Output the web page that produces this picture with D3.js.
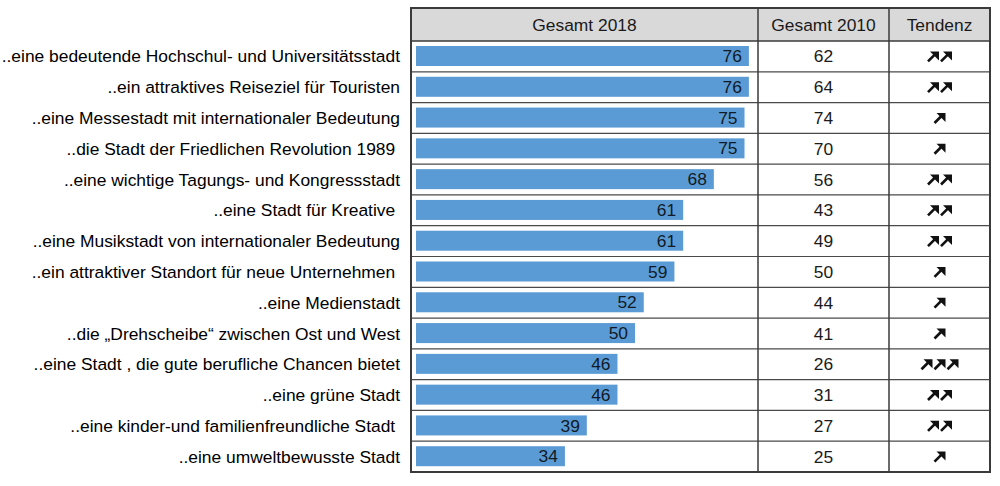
<!DOCTYPE html>
<html>
<head>
<meta charset="utf-8">
<script src="https://cdn.jsdelivr.net/npm/d3@7"></script>
<style>
    html, body { margin: 0; padding: 0; background: #fff; }
    svg { display: block; font-family: "Liberation Sans", Arial, sans-serif; }
</style>
</head>
<body>
<div id="chart"></div>
<script>
// Image statements (Leipzig is ...), values in percent
const categories = [
    '..eine bedeutende Hochschul- und Universitätsstadt',
    '..ein attraktives Reiseziel für Touristen',
    '..eine Messestadt mit internationaler Bedeutung',
    '..die Stadt der Friedlichen Revolution 1989 ',
    '..eine wichtige Tagungs- und Kongressstadt',
    '..eine Stadt für Kreative ',
    '..eine Musikstadt von internationaler Bedeutung',
    '..ein attraktiver Standort für neue Unternehmen ',
    '..eine Medienstadt',
    '..die „Drehscheibe“ zwischen Ost und West',
    '..eine Stadt , die gute berufliche Chancen bietet',
    '..eine grüne Stadt',
    '..eine kinder-und familienfreundliche Stadt ',
    '..eine umweltbewusste Stadt'
];
const values2018 = [76, 76, 75, 75, 68, 61, 61, 59, 52, 50, 46, 46, 39, 34];
const values2010 = [62, 64, 74, 70, 56, 43, 49, 50, 44, 41, 26, 31, 27, 25];
// number of up-arrows in the "Tendenz" column
const trendArrows = [2, 2, 1, 1, 2, 2, 2, 1, 1, 1, 3, 2, 2, 1];
const headers = ['Gesamt 2018', 'Gesamt 2010', 'Tendenz'];

const width = 1000;
const height = 486;
const fontSize = 17.4;

// table geometry
const table = { left: 411, top: 8, headerBottom: 41, bottom: 472 };
const cols = [411, 758, 889, 990];
const labelRight = 400;

const svg = d3.select('#chart')
    .append('svg')
    .attr('width', width)
    .attr('height', height);

const y = d3.scaleBand()
    .domain(categories)
    .range([table.headerBottom, table.bottom]);

const x = d3.scaleLinear()
    .domain([0, 100])
    .range([416, 854]);

const rows = categories.map((c, i) => ({
    label: c, v18: values2018[i], v10: values2010[i], arrows: trendArrows[i]
}));

// ===== header background =====
svg.append('rect')
    .attr('x', table.left)
    .attr('y', table.top)
    .attr('width', cols[3] - table.left)
    .attr('height', table.headerBottom - table.top)
    .attr('fill', '#d9d9d9');

headers.forEach((h, i) => {
    svg.append('text')
        .attr('x', (cols[i] + cols[i + 1]) / 2)
        .attr('y', (table.top + table.headerBottom) / 2)
        .attr('dy', '0.35em')
        .attr('text-anchor', 'middle')
        .attr('font-size', fontSize)
        .attr('fill', '#1a1a1a')
        .text(h);
});

// ===== row separators =====
svg.append('g')
    .selectAll('line')
    .data(categories.slice(1))
    .join('line')
    .attr('x1', table.left)
    .attr('x2', cols[3])
    .attr('y1', d => y(d))
    .attr('y2', d => y(d))
    .attr('stroke', '#4a4a4a')
    .attr('stroke-width', 1.2);

// ===== bars =====
const barInset = 5;
const barHeight = 20;

svg.append('g')
    .selectAll('rect')
    .data(rows)
    .join('rect')
    .attr('x', x(0))
    .attr('y', d => y(d.label) + barInset)
    .attr('width', d => x(d.v18) - x(0))
    .attr('height', barHeight)
    .attr('fill', '#5b9bd5');

svg.append('g')
    .selectAll('text')
    .data(rows)
    .join('text')
    .attr('x', d => x(d.v18) - 7)
    .attr('y', d => y(d.label) + barInset + barHeight / 2)
    .attr('dy', '0.35em')
    .attr('text-anchor', 'end')
    .attr('font-size', fontSize)
    .attr('fill', '#111a26')
    .text(d => d.v18);

// ===== category labels =====
svg.append('g')
    .selectAll('text')
    .data(rows)
    .join('text')
    .attr('x', labelRight)
    .attr('y', d => y(d.label) + y.bandwidth() / 2)
    .attr('dy', '0.35em')
    .attr('text-anchor', 'end')
    .attr('font-size', fontSize)
    .attr('fill', '#000')
    .style('white-space', 'pre')
    .text(d => d.label);

// ===== 2010 column =====
svg.append('g')
    .selectAll('text')
    .data(rows)
    .join('text')
    .attr('x', (cols[1] + cols[2]) / 2)
    .attr('y', d => y(d.label) + y.bandwidth() / 2)
    .attr('dy', '0.35em')
    .attr('text-anchor', 'middle')
    .attr('font-size', fontSize)
    .attr('fill', '#1a1a1a')
    .text(d => d.v10);

// ===== trend arrows =====
const arrowStep = 13;
const trendCenter = (cols[2] + cols[3]) / 2;

function drawArrow(g, cx, cy) {
    // diagonal shaft plus a filled head at the top right
    g.append('line')
        .attr('x1', cx - 5).attr('y1', cy + 5)
        .attr('x2', cx + 2).attr('y2', cy - 2)
        .attr('stroke', '#111')
        .attr('stroke-width', 2.6);
    g.append('path')
        .attr('d', `M${cx - 3},${cy - 5} L${cx + 6},${cy - 5} L${cx + 6},${cy + 4} Z`)
        .attr('fill', '#111');
}

const trendGroup = svg.append('g');
rows.forEach(d => {
    const cy = y(d.label) + y.bandwidth() / 2;
    const start = trendCenter - (d.arrows - 1) * arrowStep / 2;
    for (let k = 0; k < d.arrows; k++) {
        drawArrow(trendGroup, start + k * arrowStep, cy);
    }
});

// ===== column lines and outer border =====
svg.append('g')
    .selectAll('line')
    .data(cols.slice(1, 3))
    .join('line')
    .attr('x1', d => d)
    .attr('x2', d => d)
    .attr('y1', table.top)
    .attr('y2', table.bottom)
    .attr('stroke', '#3a3a3a')
    .attr('stroke-width', 1.5);

svg.append('line')
    .attr('x1', table.left)
    .attr('x2', cols[3])
    .attr('y1', table.headerBottom)
    .attr('y2', table.headerBottom)
    .attr('stroke', '#3a3a3a')
    .attr('stroke-width', 1.5);

svg.append('rect')
    .attr('x', table.left)
    .attr('y', table.top)
    .attr('width', cols[3] - table.left)
    .attr('height', table.bottom - table.top)
    .attr('fill', 'none')
    .attr('stroke', '#3a3a3a')
    .attr('stroke-width', 2);
</script>
</body>
</html>
